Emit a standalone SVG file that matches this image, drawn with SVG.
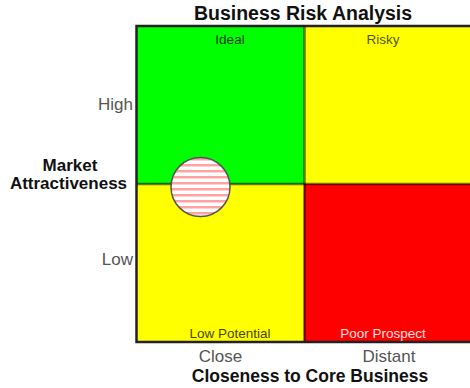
<svg xmlns="http://www.w3.org/2000/svg" width="470" height="388" viewBox="0 0 470 388">
<style>
.t{font-family:"Liberation Sans",Arial,sans-serif}
.b{font-weight:bold;fill:#111}
.ax{fill:#555;font-size:17px}
.q{font-size:13.5px;text-anchor:middle}
</style>
<defs>
<pattern id="stripes" patternUnits="userSpaceOnUse" x="0" y="158" width="10" height="6">
<rect width="10" height="6" fill="#fff"/>
<rect y="0" width="10" height="2.5" fill="#f55" opacity="0.55"/>
</pattern>
</defs>
<rect width="470" height="388" fill="#fff"/>
<g id="quadrants">
<rect id="ideal" x="137" y="26" width="167" height="158" fill="#00ff00"/>
<rect id="risky" x="304" y="26" width="168" height="158" fill="#ffff00"/>
<rect id="lowpotential" x="137" y="184" width="167" height="158" fill="#ffff00"/>
<rect id="poorprospect" x="304" y="184" width="168" height="158" fill="#ff0000"/>
</g>
<g id="dividers" stroke="#000" stroke-opacity="0.55" stroke-width="2.5">
<line x1="304.5" y1="26" x2="304.5" y2="342"/>
<line x1="137" y1="184" x2="472" y2="184"/>
</g>
<g id="frame" fill="none" stroke="#222" stroke-width="2.5">
<polyline points="472,26 136.5,26 136.5,342 472,342"/>
</g>
<g id="labels" class="t">
<text class="q" x="230" y="44" fill="#1a3a1a">Ideal</text>
<text class="q" x="383" y="44" fill="#555500">Risky</text>
<text class="q" x="230" y="338" fill="#444400">Low Potential</text>
<text class="q" x="383" y="338" fill="#ffe0e0">Poor Prospect</text>
</g>
<g id="bubble">
<circle cx="200.5" cy="187" r="29.5" fill="url(#stripes)" stroke="#555" stroke-width="1.5"/>
</g>
<g id="axes" class="t">
<text class="b" x="303" y="20" font-size="19.5" text-anchor="middle">Business Risk Analysis</text>
<text class="ax" x="133" y="110" text-anchor="end">High</text>
<text class="ax" x="133" y="265" text-anchor="end">Low</text>
<text class="b" x="70" y="171" font-size="17" text-anchor="middle">Market</text>
<text class="b" x="68.5" y="189" font-size="17" text-anchor="middle">Attractiveness</text>
<text class="ax" x="220.5" y="362" text-anchor="middle">Close</text>
<text class="ax" x="389" y="362" text-anchor="middle">Distant</text>
<text class="b" x="310" y="382" font-size="17.5" text-anchor="middle">Closeness to Core Business</text>
</g>
</svg>
